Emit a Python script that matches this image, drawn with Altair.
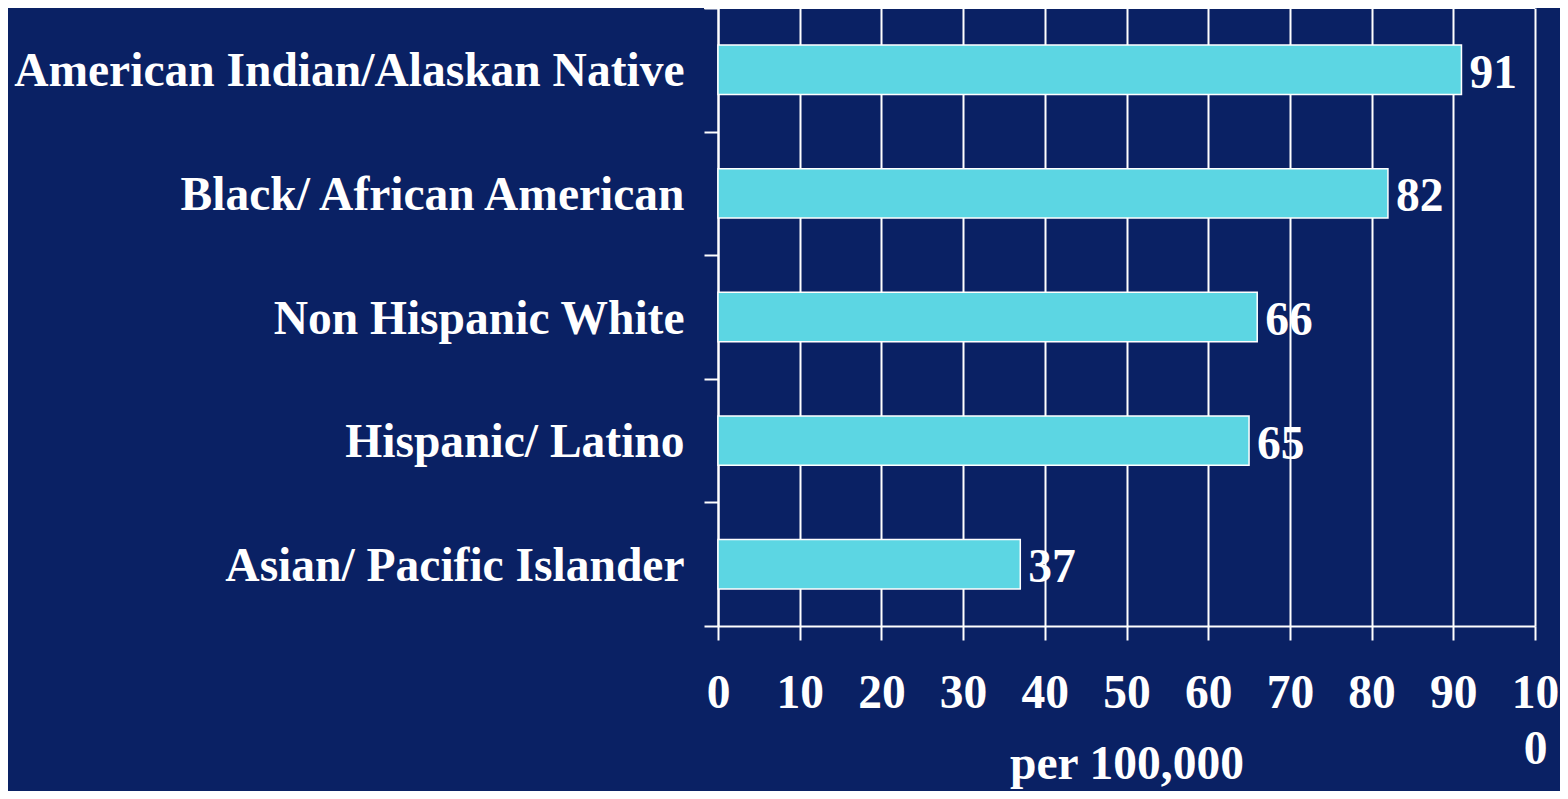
import altair as alt
import pandas as pd

categories = [
    "American Indian/Alaskan Native",
    "Black/ African American",
    "Non Hispanic White",
    "Hispanic/ Latino",
    "Asian/ Pacific Islander",
]
values = [91, 82, 66, 65, 37]

df = pd.DataFrame({"group": categories, "rate": values})

BG = "#0a2164"
BAR = "#5cd6e3"
FONT = "Liberation Serif"
FS = 47.5

x_enc = alt.X(
    "rate:Q",
    scale=alt.Scale(domain=[0, 100], nice=False),
    axis=alt.Axis(
        values=list(range(0, 101, 10)),
        title="per 100,000",
        titleY=152,
        titleBaseline="alphabetic",
        titleFont=FONT,
        titleFontSize=FS,
        titleFontWeight="bold",
        titleColor="white",
        labelFont=FONT,
        labelFontSize=FS,
        labelFontWeight="bold",
        labelColor="white",
        labelPadding=29,
        labelLineHeight=56,
        labelExpr="datum.value == 100 ? ['10', '0'] : datum.label",
        labelOverlap=False,
        labelFlush=False,
        grid=True,
        gridColor="white",
        gridWidth=2,
        gridOpacity=1,
        domainColor="white",
        domainWidth=2,
        tickColor="white",
        tickWidth=2,
        tickSize=14,
    ),
)

y_enc = alt.Y(
    "group:N",
    sort=categories,
    scale=alt.Scale(paddingInner=0, paddingOuter=0),
    axis=alt.Axis(
        title=None,
        labelFont=FONT,
        labelFontSize=FS,
        labelFontWeight="bold",
        labelColor="white",
        labelPadding=20,
        labelLimit=800,
        labelBaseline="middle",
        labelOffset=2,
        tickBand="extent",
        tickColor="white",
        tickWidth=2,
        tickSize=14,
        domainColor="white",
        domainWidth=2,
        grid=False,
    ),
)

bars = alt.Chart(df).mark_bar(
    color=BAR, stroke="white", strokeWidth=1.5,
    height=alt.RelativeBandSize(0.4),
).encode(x=x_enc, y=y_enc)

labels = alt.Chart(df).mark_text(
    align="left", baseline="middle", dx=8, dy=4,
    font=FONT, fontSize=FS, fontWeight="bold", color="white",
).encode(x="rate:Q", y=alt.Y("group:N", sort=categories), text="rate:Q")

top_rule = alt.Chart(df).mark_rule(color="white", strokeWidth=2).encode(
    x=alt.value(-14), x2=alt.value(817), y=alt.value(0)
)

chart = alt.layer(bars, labels, top_rule).properties(
    width=817,
    height=618,
    background=BG,
    autosize=alt.AutoSizeParams(type="none"),
    padding={"left": 710, "top": 0, "right": 25, "bottom": 165},
).configure_view(stroke=None)

chart.save("out.html", embed_options={"renderer": "svg", "actions": False})
